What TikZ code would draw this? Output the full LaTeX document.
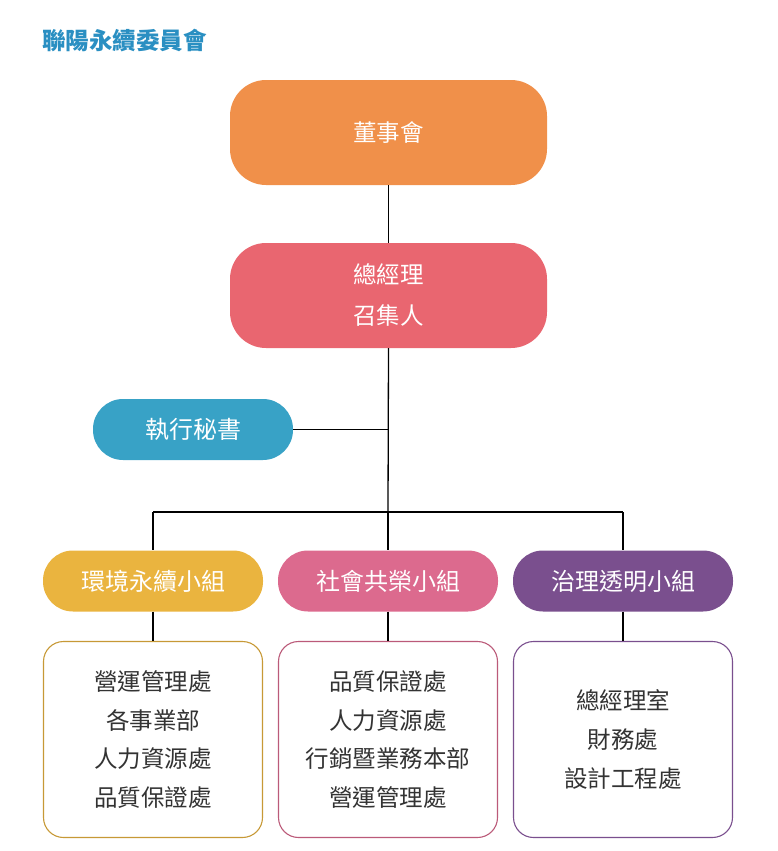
\documentclass[tikz,border=0pt]{standalone}
\usepackage{fontspec}
\setmainfont{Noto Sans CJK TC}
\newfontfamily\cjk{Noto Sans CJK TC}
\usetikzlibrary{positioning}
\definecolor{ctitle}{HTML}{2A8FC2}
\definecolor{corange}{HTML}{F0904A}
\definecolor{cred}{HTML}{E96670}
\definecolor{cblue}{HTML}{38A2C6}
\definecolor{cyellow}{HTML}{EAB43F}
\definecolor{cpink}{HTML}{DC6A8E}
\definecolor{cpurple}{HTML}{7A4F8E}
\definecolor{ctext}{HTML}{333333}
\tikzset{
  topbox/.style={rounded corners=36pt, minimum width=317pt, minimum height=105pt, text=white, font=\cjk\fontsize{23.5}{41}\selectfont, align=center, inner sep=0pt},
  pill/.style={rounded corners=30pt, minimum height=61pt, text=white, font=\cjk\fontsize{24}{28}\selectfont, inner sep=0pt},
  listbox/.style={draw, line width=1.1pt, rounded corners=20pt, minimum width=219pt, minimum height=196pt, fill=white, text=ctext, font=\cjk\fontsize{23.5}{38.7}\selectfont, align=center, inner sep=0pt},
  conn/.style={line width=1.3pt, black}
}
\begin{document}
\begin{tikzpicture}[x=1pt,y=-1pt]
\useasboundingbox (0,0) rectangle (777,851);
\node[anchor=west, text=ctitle, font=\cjk\bfseries\fontsize{23.5}{26}\selectfont, inner sep=0pt] (title) at (42,41) {聯陽永續委員會};
\node[topbox, fill=corange] (board) at (388.5,132.5) {董事會};
\node[topbox, fill=cred] (gm) at (388.5,295.5) {總經理\\召集人};
\node[pill, fill=cblue, minimum width=200pt] (sec) at (193,429.5) {執行秘書};
\node[pill, fill=cyellow, minimum width=220pt] (g1) at (153,581) {環境永續小組};
\node[pill, fill=cpink, minimum width=220pt] (g2) at (388,581) {社會共榮小組};
\node[pill, fill=cpurple, minimum width=220pt] (g3) at (623,581) {治理透明小組};
\node[listbox, draw=cyellow!85!black] (b1) at (153,739.5) {營運管理處\\各事業部\\人力資源處\\品質保證處};
\node[listbox, draw=cpink!85!black] (b2) at (388,739.5) {品質保證處\\人力資源處\\行銷暨業務本部\\營運管理處};
\node[listbox, draw=cpurple] (b3) at (623,739.5) {總經理室\\財務處\\設計工程處};
\coordinate (jsec) at (388,429.5);
\coordinate (jbus) at (388,512);
\coordinate (jl) at (153,512);
\coordinate (jr) at (623,512);
\draw[conn] (board.south) -- (gm.north);
\draw[conn] (gm.south) -- (jbus);
\draw[conn] (sec.east) -- (jsec);
\draw[conn] (jl) -- (jr);
\draw[conn] (jl) -- (g1.north);
\draw[conn] (jbus) -- (g2.north);
\draw[conn] (jr) -- (g3.north);
\draw[conn] (g1.south) -- (b1.north);
\draw[conn] (g2.south) -- (b2.north);
\draw[conn] (g3.south) -- (b3.north);
\end{tikzpicture}
\end{document}
